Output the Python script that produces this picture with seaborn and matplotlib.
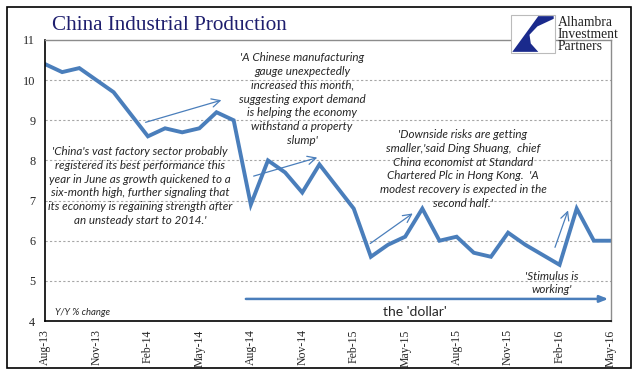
import matplotlib
matplotlib.use("Agg")
import matplotlib.pyplot as plt
from matplotlib.patches import Rectangle, Polygon
import pandas as pd
import seaborn as sns

# monthly y/y growth, Jan figures are reported jointly with Feb
dates = ["2013-08", "2013-09", "2013-10", "2013-11", "2013-12",
         "2014-02", "2014-03", "2014-04", "2014-05", "2014-06", "2014-07",
         "2014-08", "2014-09", "2014-10", "2014-11", "2014-12",
         "2015-02", "2015-03", "2015-04", "2015-05", "2015-06", "2015-07",
         "2015-08", "2015-09", "2015-10", "2015-11", "2015-12",
         "2016-02", "2016-03", "2016-04", "2016-05"]
ip_yoy = [10.4, 10.2, 10.3, 10.0, 9.7,
          8.6, 8.8, 8.7, 8.8, 9.2, 9.0,
          6.9, 8.0, 7.7, 7.2, 7.9,
          6.8, 5.6, 5.9, 6.1, 6.8, 6.0,
          6.1, 5.7, 5.6, 6.2, 5.9,
          5.4, 6.8, 6.0, 6.0]
tick_labels = ["Aug-13", "Nov-13", "Feb-14", "May-14", "Aug-14", "Nov-14",
               "Feb-15", "May-15", "Aug-15", "Nov-15", "Feb-16", "May-16"]
y_ticks = [4, 5, 6, 7, 8, 9, 10, 11]

quotes = [
    "'A Chinese manufacturing\ngauge unexpectedly\nincreased this month,\n"
    "suggesting export demand\nis helping the economy\nwithstand a property\nslump'",
    "'China's vast factory sector probably\nregistered its best performance this\n"
    "year in June as growth quickened to a\nsix-month high, further signaling that\n"
    "its economy is regaining strength after\nan unsteady start to 2014.'",
    "'Downside risks are getting\nsmaller,'said Ding Shuang,  chief\n"
    "China economist at Standard\nChartered Plc in Hong Kong.  'A\n"
    "modest recovery is expected in the\nsecond half.'",
    "'Stimulus is\nworking'",
]

d = pd.to_datetime(dates)
df = pd.DataFrame({"month": (d.year - 2013) * 12 + d.month - 8, "ip": ip_yoy})

LINE = "#4A7EBB"
NAVY = "#1E1E6E"

sns.set_style("white")
plt.rcParams["font.family"] = ["Liberation Serif", "DejaVu Serif"]

fig = plt.figure(figsize=(6.41, 3.79), dpi=100)
ax = fig.add_axes([45 / 641, 1 - 321 / 379, 566 / 641, 281 / 379])

sns.lineplot(data=df, x="month", y="ip", ax=ax, color=LINE, linewidth=2.8,
             solid_joinstyle="miter")

ax.set_xlim(0, 33)
ax.set_ylim(4, 11)
ax.set_xticks(range(0, 34, 3))
ax.set_xticklabels(tick_labels, rotation=90, fontsize=8.5)
ax.set_yticks(y_ticks)
ax.set_yticklabels([str(v) for v in y_ticks], fontsize=8.8)
ax.set_xlabel("")
ax.set_ylabel("")
ax.tick_params(axis="both", direction="out", length=4, width=1, color="black", pad=2)
ax.tick_params(axis="y", pad=3)

for v in y_ticks[1:-1]:
    ax.axhline(v, color="#A6A6A6", lw=0.8, ls=(0, (2, 2)), zorder=0)

for s in ["left", "bottom"]:
    ax.spines[s].set_color("black")
    ax.spines[s].set_linewidth(1.2)
for s in ["top", "right"]:
    ax.spines[s].set_color("#8C8C8C")
    ax.spines[s].set_linewidth(1.0)

qfont = dict(family=["Lato", "DejaVu Sans"], style="italic", fontsize=8.4,
             ha="center", va="center", linespacing=1.3)
ax.text(14.99, 9.53, quotes[0], **qfont)
ax.text(5.54, 7.36, quotes[1], **qfont)
ax.text(24.37, 7.79, quotes[2], **qfont)
ax.text(29.56, 4.95, quotes[3], **qfont)
ax.text(0.58, 4.21, "Y/Y % change", family=["Lato", "DejaVu Sans"], style="italic",
        fontsize=6.8, ha="left", va="center")
ax.text(21.55, 4.22, "the 'dollar'", family=["Lato", "DejaVu Sans"], fontsize=10,
        ha="center", va="center")

thin = dict(arrowstyle="->,head_length=0.6,head_width=0.3", color=LINE, lw=0.9)
ax.annotate("", xy=(10.44, 9.52), xytext=(5.71, 8.93), arrowprops=thin)
ax.annotate("", xy=(16.03, 8.09), xytext=(12.01, 7.59), arrowprops=thin)
ax.annotate("", xy=(21.57, 6.72), xytext=(18.83, 5.89), arrowprops=thin)
ax.annotate("", xy=(30.55, 6.82), xytext=(29.68, 5.77), arrowprops=thin)
ax.annotate("", xy=(33.0, 4.55), xytext=(11.55, 4.55),
            arrowprops=dict(arrowstyle="-|>,head_length=0.5,head_width=0.2",
                            color=LINE, lw=1.8))

# title and chart frame
fig.text(52 / 641, 1 - 25 / 379, "China Industrial Production", color=NAVY,
         fontsize=15.2, ha="left", va="center")
fig.patches.append(Rectangle((7 / 641, 1 - 368 / 379), 624 / 641, 361 / 379,
                             transform=fig.transFigure, fill=False,
                             edgecolor="black", lw=1.2))

# logo
lx, ly, lw_, lh = 511 / 641, 1 - 53 / 379, 44 / 641, 38 / 379
fig.patches.append(Rectangle((lx, ly), lw_, lh, transform=fig.transFigure,
                             facecolor="white", edgecolor="#BBBBBB", lw=0.8, zorder=5))
shape = [(0.62, 0.97), (0.97, 0.97), (0.97, 0.9), (0.6, 0.7), (0.42, 0.48),
         (0.45, 0.25), (0.62, 0.03), (0.03, 0.03)]
fig.patches.append(Polygon([(lx + px * lw_, ly + py * lh) for px, py in shape],
                           closed=True, transform=fig.transFigure,
                           facecolor="#1A2A8C", edgecolor="none", zorder=6))
for i, word in enumerate(["Alhambra", "Investment", "Partners"]):
    fig.text(558 / 641, 1 - (22 + 12 * i) / 379, word, fontsize=9.8,
             ha="left", va="center", color="#222222")

fig.savefig("out.png", dpi=100)
